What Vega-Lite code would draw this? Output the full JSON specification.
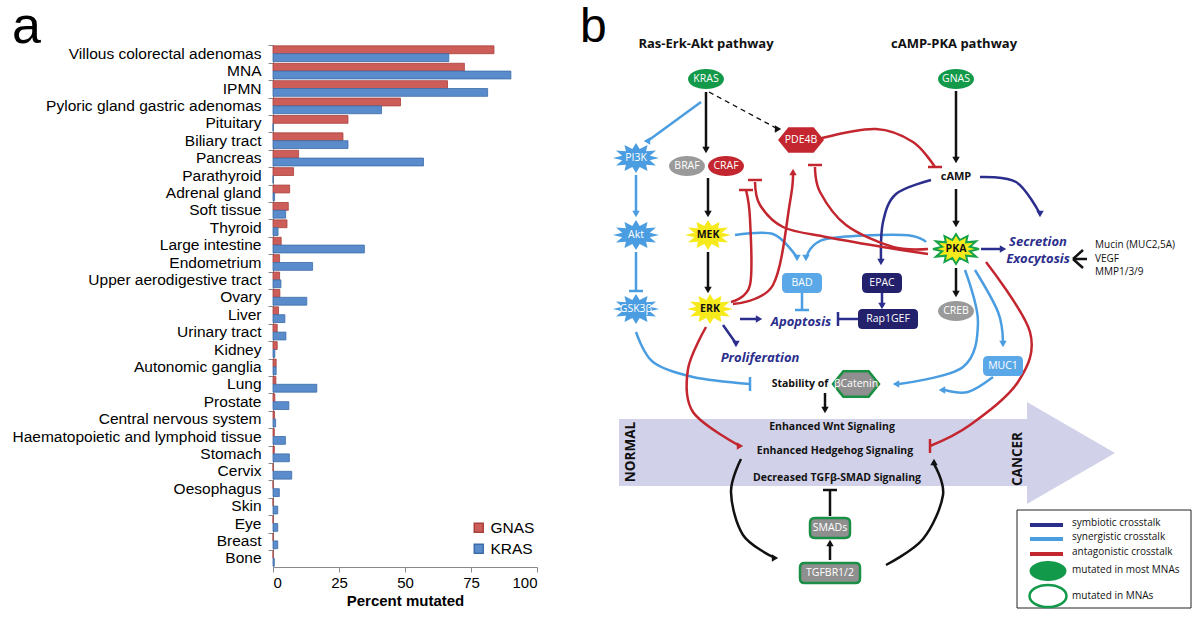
{
  "$schema": "https://vega.github.io/schema/vega-lite/v6.json",
  "padding": {"left": 12, "top": 0, "right": 0, "bottom": 0},
  "background": "white",
  "config": {"view": {"stroke": null}, "font": "Liberation Sans"},
  "spacing": 42,
  "resolve": {"scale": {"color": "independent", "stroke": "independent"}},
  "datasets": {
    "edges": [
      {"edge":"e1","kind":"direct","k":0,"x":123,"y":90},{"edge":"e1","kind":"direct","k":1,"x":123,"y":146},
      {"edge":"e3","kind":"direct","k":0,"x":125,"y":176},{"edge":"e3","kind":"direct","k":1,"x":125,"y":210},
      {"edge":"e4","kind":"direct","k":0,"x":125,"y":250},{"edge":"e4","kind":"direct","k":1,"x":125,"y":286},
      {"edge":"e5","kind":"direct","k":0,"x":373,"y":89},{"edge":"e5","kind":"direct","k":1,"x":373,"y":156},
      {"edge":"e6","kind":"direct","k":0,"x":373,"y":187},{"edge":"e6","kind":"direct","k":1,"x":373,"y":220},
      {"edge":"e7","kind":"direct","k":0,"x":373,"y":266},{"edge":"e7","kind":"direct","k":1,"x":373,"y":290},
      {"edge":"e8","kind":"direct","k":0,"x":242,"y":391},{"edge":"e8","kind":"direct","k":1,"x":242,"y":406},
      {"edge":"e9","kind":"direct","k":0,"x":158,"y":457},{"edge":"e9","kind":"direct","k":1,"x":148,"y":490},{"edge":"e9","kind":"direct","k":2,"x":160,"y":533},{"edge":"e9","kind":"direct","k":3,"x":190,"y":555},
      {"edge":"e10","kind":"direct","k":0,"x":303,"y":563},{"edge":"e10","kind":"direct","k":1,"x":340,"y":537},{"edge":"e10","kind":"direct","k":2,"x":360,"y":493},{"edge":"e10","kind":"direct","k":3,"x":351,"y":462},
      {"edge":"e11","kind":"direct","k":0,"x":247,"y":558},{"edge":"e11","kind":"direct","k":1,"x":247,"y":543},
      {"edge":"e12","kind":"direct","k":0,"x":247,"y":514},{"edge":"e12","kind":"direct","k":1,"x":247,"y":488},
      {"edge":"f1","kind":"direct","k":0,"x":490,"y":257},{"edge":"f1","kind":"direct","k":1,"x":500,"y":248},
      {"edge":"f2","kind":"direct","k":0,"x":490,"y":257},{"edge":"f2","kind":"direct","k":1,"x":504,"y":257},
      {"edge":"f3","kind":"direct","k":0,"x":490,"y":257},{"edge":"f3","kind":"direct","k":1,"x":500,"y":266},
      {"edge":"d1","kind":"indirect","k":0,"x":126,"y":90},{"edge":"d1","kind":"indirect","k":1,"x":193,"y":126},
      {"edge":"s1","kind":"synergistic","k":0,"x":118,"y":100},{"edge":"s1","kind":"synergistic","k":1,"x":66,"y":138},
      {"edge":"s2","kind":"synergistic","k":0,"x":53,"y":173},{"edge":"s2","kind":"synergistic","k":1,"x":53,"y":210},
      {"edge":"s3","kind":"synergistic","k":0,"x":53,"y":250},{"edge":"s3","kind":"synergistic","k":1,"x":53,"y":289},
      {"edge":"s4","kind":"synergistic","k":0,"x":53,"y":330},{"edge":"s4","kind":"synergistic","k":1,"x":70,"y":360},{"edge":"s4","kind":"synergistic","k":2,"x":110,"y":375},{"edge":"s4","kind":"synergistic","k":3,"x":167,"y":382},
      {"edge":"s5","kind":"synergistic","k":0,"x":152,"y":233},{"edge":"s5","kind":"synergistic","k":1,"x":190,"y":232},{"edge":"s5","kind":"synergistic","k":2,"x":213,"y":254},
      {"edge":"s6","kind":"synergistic","k":0,"x":343,"y":240},{"edge":"s6","kind":"synergistic","k":1,"x":320,"y":233},{"edge":"s6","kind":"synergistic","k":2,"x":243,"y":237},{"edge":"s6","kind":"synergistic","k":3,"x":224,"y":254},
      {"edge":"s7","kind":"synergistic","k":0,"x":219,"y":291},{"edge":"s7","kind":"synergistic","k":1,"x":219,"y":308},
      {"edge":"s8","kind":"synergistic","k":0,"x":382,"y":268},{"edge":"s8","kind":"synergistic","k":1,"x":395,"y":320},{"edge":"s8","kind":"synergistic","k":2,"x":380,"y":365},{"edge":"s8","kind":"synergistic","k":3,"x":316,"y":382},
      {"edge":"s9","kind":"synergistic","k":0,"x":392,"y":268},{"edge":"s9","kind":"synergistic","k":1,"x":415,"y":310},{"edge":"s9","kind":"synergistic","k":2,"x":420,"y":340},
      {"edge":"s10","kind":"synergistic","k":0,"x":410,"y":375},{"edge":"s10","kind":"synergistic","k":1,"x":385,"y":390},{"edge":"s10","kind":"synergistic","k":2,"x":362,"y":388},
      {"edge":"n1","kind":"symbiotic","k":0,"x":397,"y":175},{"edge":"n1","kind":"symbiotic","k":1,"x":433,"y":180},{"edge":"n1","kind":"symbiotic","k":2,"x":456,"y":210},
      {"edge":"n2","kind":"symbiotic","k":0,"x":398,"y":247},{"edge":"n2","kind":"symbiotic","k":1,"x":418,"y":247},
      {"edge":"n3","kind":"symbiotic","k":0,"x":348,"y":178},{"edge":"n3","kind":"symbiotic","k":1,"x":313,"y":192},{"edge":"n3","kind":"symbiotic","k":2,"x":300,"y":220},{"edge":"n3","kind":"symbiotic","k":3,"x":298,"y":258},
      {"edge":"n4","kind":"symbiotic","k":0,"x":299,"y":291},{"edge":"n4","kind":"symbiotic","k":1,"x":299,"y":302},
      {"edge":"n5","kind":"symbiotic","k":0,"x":277,"y":317},{"edge":"n5","kind":"symbiotic","k":1,"x":255,"y":317},
      {"edge":"n6","kind":"symbiotic","k":0,"x":157,"y":317},{"edge":"n6","kind":"symbiotic","k":1,"x":174,"y":317},
      {"edge":"n7","kind":"symbiotic","k":0,"x":140,"y":323},{"edge":"n7","kind":"symbiotic","k":1,"x":152,"y":340},
      {"edge":"r1","kind":"antagonistic","k":0,"x":239,"y":136},{"edge":"r1","kind":"antagonistic","k":1,"x":293,"y":127},{"edge":"r1","kind":"antagonistic","k":2,"x":330,"y":140},{"edge":"r1","kind":"antagonistic","k":3,"x":352,"y":165},
      {"edge":"r2","kind":"antagonistic","k":0,"x":150,"y":302},{"edge":"r2","kind":"antagonistic","k":1,"x":190,"y":283},{"edge":"r2","kind":"antagonistic","k":2,"x":207,"y":200},{"edge":"r2","kind":"antagonistic","k":3,"x":210,"y":172},
      {"edge":"r3","kind":"antagonistic","k":0,"x":148,"y":300},{"edge":"r3","kind":"antagonistic","k":1,"x":167,"y":283},{"edge":"r3","kind":"antagonistic","k":2,"x":167,"y":217},{"edge":"r3","kind":"antagonistic","k":3,"x":163,"y":188},
      {"edge":"r4","kind":"antagonistic","k":0,"x":345,"y":252},{"edge":"r4","kind":"antagonistic","k":1,"x":300,"y":245},{"edge":"r4","kind":"antagonistic","k":2,"x":243,"y":235},{"edge":"r4","kind":"antagonistic","k":3,"x":200,"y":225},{"edge":"r4","kind":"antagonistic","k":4,"x":177,"y":203},{"edge":"r4","kind":"antagonistic","k":5,"x":172,"y":180},
      {"edge":"r5","kind":"antagonistic","k":0,"x":345,"y":247},{"edge":"r5","kind":"antagonistic","k":1,"x":310,"y":245},{"edge":"r5","kind":"antagonistic","k":2,"x":263,"y":223},{"edge":"r5","kind":"antagonistic","k":3,"x":237,"y":190},{"edge":"r5","kind":"antagonistic","k":4,"x":232,"y":165},
      {"edge":"r6","kind":"antagonistic","k":0,"x":123,"y":325},{"edge":"r6","kind":"antagonistic","k":1,"x":105,"y":367},{"edge":"r6","kind":"antagonistic","k":2,"x":110,"y":410},{"edge":"r6","kind":"antagonistic","k":3,"x":155,"y":443},
      {"edge":"r7","kind":"antagonistic","k":0,"x":403,"y":260},{"edge":"r7","kind":"antagonistic","k":1,"x":447,"y":330},{"edge":"r7","kind":"antagonistic","k":2,"x":435,"y":380},{"edge":"r7","kind":"antagonistic","k":3,"x":387,"y":423},{"edge":"r7","kind":"antagonistic","k":4,"x":347,"y":444}
    ],
    "heads": [
      {"kind":"direct","dir":"down","x":123,"y":148},{"kind":"direct","dir":"down","x":125,"y":212},{"kind":"direct","dir":"down","x":125,"y":288},
      {"kind":"direct","dir":"down","x":373,"y":158},{"kind":"direct","dir":"down","x":373,"y":222},{"kind":"direct","dir":"down","x":373,"y":292},
      {"kind":"direct","dir":"down","x":242,"y":408},{"kind":"direct","dir":"right","x":192,"y":556},{"kind":"direct","dir":"up","x":351,"y":460},
      {"kind":"direct","dir":"up","x":247,"y":541},{"kind":"indirect","dir":"right","x":195,"y":127},
      {"kind":"synergistic","dir":"left","x":64,"y":139},{"kind":"synergistic","dir":"down","x":53,"y":212},{"kind":"synergistic","dir":"down","x":214,"y":256},
      {"kind":"synergistic","dir":"down","x":223,"y":256},{"kind":"synergistic","dir":"left","x":313,"y":382},{"kind":"synergistic","dir":"down","x":420,"y":342},
      {"kind":"synergistic","dir":"left","x":359,"y":388},
      {"kind":"symbiotic","dir":"down","x":457,"y":212},{"kind":"symbiotic","dir":"right","x":420,"y":247},{"kind":"symbiotic","dir":"down","x":298,"y":260},
      {"kind":"symbiotic","dir":"down","x":299,"y":304},{"kind":"symbiotic","dir":"right","x":176,"y":317},{"kind":"symbiotic","dir":"down","x":153,"y":342},
      {"kind":"antagonistic","dir":"up","x":210,"y":170},{"kind":"antagonistic","dir":"right","x":157,"y":444},
      {"kind":"direct","dir":"h","x":247,"y":488},
      {"kind":"synergistic","dir":"h","x":53,"y":289},{"kind":"synergistic","dir":"v","x":167,"y":382},{"kind":"synergistic","dir":"h","x":219,"y":308},
      {"kind":"symbiotic","dir":"v","x":255,"y":317},
      {"kind":"antagonistic","dir":"h","x":352,"y":165},{"kind":"antagonistic","dir":"h","x":163,"y":188},{"kind":"antagonistic","dir":"h","x":172,"y":178},
      {"kind":"antagonistic","dir":"h","x":232,"y":163},{"kind":"antagonistic","dir":"v","x":347,"y":444}
    ],
    "nodes": [
      {"name":"KRAS","x":123,"y":77},{"name":"GNAS","x":373,"y":77},{"name":"PDE4B","x":218,"y":138},
      {"name":"PI3K","x":53,"y":156},{"name":"BRAF","x":104,"y":164},{"name":"CRAF","x":143,"y":164},
      {"name":"MEK","x":125,"y":233},{"name":"Akt","x":53,"y":233},{"name":"PKA","x":373,"y":247},
      {"name":"BAD","x":219,"y":281},{"name":"EPAC","x":299,"y":281},{"name":"GSK3β","x":53,"y":307},
      {"name":"ERK","x":127,"y":307},{"name":"Rap1GEF","x":305,"y":317},{"name":"CREB","x":373,"y":309},
      {"name":"MUC1","x":420,"y":364},{"name":"βCatenin","x":273,"y":382},{"name":"SMADs","x":247,"y":526},
      {"name":"TGFBR1/2","x":247,"y":571}
    ],
    "texts": [
      {"role":"panel","text":"b","x":-3,"y":40},
      {"role":"header","text":"Ras-Erk-Akt pathway","x":123,"y":42},
      {"role":"header","text":"cAMP-PKA pathway","x":371,"y":42},
      {"role":"camp","text":"cAMP","x":373,"y":175},
      {"role":"process","text":"Secretion","x":455,"y":240},
      {"role":"process","text":"Exocytosis","x":455,"y":257},
      {"role":"process","text":"Apoptosis","x":218,"y":320},
      {"role":"process","text":"Proliferation","x":177,"y":356},
      {"role":"small","text":"Mucin (MUC2,5A)","x":512,"y":243},
      {"role":"small","text":"VEGF","x":512,"y":257},
      {"role":"small","text":"MMP1/3/9","x":512,"y":270},
      {"role":"signal","text":"Stability of","x":217,"y":382},
      {"role":"signal","text":"Enhanced Wnt Signaling","x":249,"y":425},
      {"role":"signal","text":"Enhanced Hedgehog Signaling","x":252,"y":449},
      {"role":"signal","text":"Decreased TGFβ-SMAD Signaling","x":254,"y":476},
      {"role":"stage","text":"NORMAL","x":48,"y":450},
      {"role":"stage","text":"CANCER","x":435,"y":457},
      {"role":"legend","text":"symbiotic crosstalk","x":489,"y":521},
      {"role":"legend","text":"synergistic crosstalk","x":489,"y":535},
      {"role":"legend","text":"antagonistic crosstalk","x":489,"y":550},
      {"role":"legend","text":"mutated in most MNAs","x":489,"y":568},
      {"role":"legend","text":"mutated in MNAs","x":489,"y":594}
    ],
    "arrow": [
      {"x":36,"y":417,"y2":484},{"x":444,"y":417,"y2":484},
      {"x":444,"y":400,"y2":502},{"x":532,"y":451,"y2":451}
    ],
    "legendBox": [{"x":434,"x2":608,"y":508,"y2":606}],
    "legendLines": [
      {"kind":"symbiotic","x":447,"x2":480,"y":523},
      {"kind":"synergistic","x":447,"x2":480,"y":537},
      {"kind":"antagonistic","x":447,"x2":480,"y":552}
    ],
    "legendMarks": [
      {"status":"most","x":465,"y":569},
      {"status":"some","x":465,"y":594}
    ]
  },
  "hconcat": [
    {
      "width": 264,
      "height": 522,
      "title": {"text": "a", "anchor": "start", "frame": "bounds", "fontSize": 52, "fontWeight": "normal", "font": "Liberation Sans", "offset": -9, "color": "#000"},
      "data": {"values": [
        {"tissue":"Villous colorectal adenomas","gene":"GNAS","pct":83.7},{"tissue":"Villous colorectal adenomas","gene":"KRAS","pct":66.6},
        {"tissue":"MNA","gene":"GNAS","pct":72.5},{"tissue":"MNA","gene":"KRAS","pct":90.1},
        {"tissue":"IPMN","gene":"GNAS","pct":66.1},{"tissue":"IPMN","gene":"KRAS","pct":81.3},
        {"tissue":"Pyloric gland gastric adenomas","gene":"GNAS","pct":48.3},{"tissue":"Pyloric gland gastric adenomas","gene":"KRAS","pct":41.1},
        {"tissue":"Pituitary","gene":"GNAS","pct":28.4},{"tissue":"Pituitary","gene":"KRAS","pct":0},
        {"tissue":"Biliary tract","gene":"GNAS","pct":26.5},{"tissue":"Biliary tract","gene":"KRAS","pct":28.4},
        {"tissue":"Pancreas","gene":"GNAS","pct":9.7},{"tissue":"Pancreas","gene":"KRAS","pct":57.0},
        {"tissue":"Parathyroid","gene":"GNAS","pct":7.8},{"tissue":"Parathyroid","gene":"KRAS","pct":0},
        {"tissue":"Adrenal gland","gene":"GNAS","pct":6.3},{"tissue":"Adrenal gland","gene":"KRAS","pct":0.6},
        {"tissue":"Soft tissue","gene":"GNAS","pct":5.8},{"tissue":"Soft tissue","gene":"KRAS","pct":4.8},
        {"tissue":"Thyroid","gene":"GNAS","pct":5.3},{"tissue":"Thyroid","gene":"KRAS","pct":1.9},
        {"tissue":"Large intestine","gene":"GNAS","pct":3.1},{"tissue":"Large intestine","gene":"KRAS","pct":34.6},
        {"tissue":"Endometrium","gene":"GNAS","pct":2.5},{"tissue":"Endometrium","gene":"KRAS","pct":15.0},
        {"tissue":"Upper aerodigestive tract","gene":"GNAS","pct":2.5},{"tissue":"Upper aerodigestive tract","gene":"KRAS","pct":3.0},
        {"tissue":"Ovary","gene":"GNAS","pct":2.6},{"tissue":"Ovary","gene":"KRAS","pct":12.8},
        {"tissue":"Liver","gene":"GNAS","pct":2.1},{"tissue":"Liver","gene":"KRAS","pct":4.5},
        {"tissue":"Urinary tract","gene":"GNAS","pct":1.6},{"tissue":"Urinary tract","gene":"KRAS","pct":4.9},
        {"tissue":"Kidney","gene":"GNAS","pct":1.6},{"tissue":"Kidney","gene":"KRAS","pct":0.7},
        {"tissue":"Autonomic ganglia","gene":"GNAS","pct":1.2},{"tissue":"Autonomic ganglia","gene":"KRAS","pct":1.2},
        {"tissue":"Lung","gene":"GNAS","pct":1.1},{"tissue":"Lung","gene":"KRAS","pct":16.6},
        {"tissue":"Prostate","gene":"GNAS","pct":0.7},{"tissue":"Prostate","gene":"KRAS","pct":6.0},
        {"tissue":"Central nervous system","gene":"GNAS","pct":0.6},{"tissue":"Central nervous system","gene":"KRAS","pct":1.0},
        {"tissue":"Haematopoietic and lymphoid tissue","gene":"GNAS","pct":0.5},{"tissue":"Haematopoietic and lymphoid tissue","gene":"KRAS","pct":4.7},
        {"tissue":"Stomach","gene":"GNAS","pct":0.5},{"tissue":"Stomach","gene":"KRAS","pct":6.2},
        {"tissue":"Cervix","gene":"GNAS","pct":0},{"tissue":"Cervix","gene":"KRAS","pct":7.1},
        {"tissue":"Oesophagus","gene":"GNAS","pct":0},{"tissue":"Oesophagus","gene":"KRAS","pct":2.4},
        {"tissue":"Skin","gene":"GNAS","pct":0},{"tissue":"Skin","gene":"KRAS","pct":1.8},
        {"tissue":"Eye","gene":"GNAS","pct":0},{"tissue":"Eye","gene":"KRAS","pct":1.8},
        {"tissue":"Breast","gene":"GNAS","pct":0},{"tissue":"Breast","gene":"KRAS","pct":1.8},
        {"tissue":"Bone","gene":"GNAS","pct":0},{"tissue":"Bone","gene":"KRAS","pct":0.5}
      ]},
      "mark": {"type": "bar", "strokeWidth": 0.8},
      "encoding": {
        "y": {"field": "tissue", "type": "nominal",
          "sort": ["Villous colorectal adenomas","MNA","IPMN","Pyloric gland gastric adenomas","Pituitary","Biliary tract","Pancreas","Parathyroid","Adrenal gland","Soft tissue","Thyroid","Large intestine","Endometrium","Upper aerodigestive tract","Ovary","Liver","Urinary tract","Kidney","Autonomic ganglia","Lung","Prostate","Central nervous system","Haematopoietic and lymphoid tissue","Stomach","Cervix","Oesophagus","Skin","Eye","Breast","Bone"],
          "scale": {"paddingInner": 0.1, "paddingOuter": 0.05},
          "axis": {"title": null, "labelFontSize": 15.5, "labelColor": "#000", "labelPadding": 7, "tickSize": 5, "bandPosition": 0, "domainColor": "#8a8a8a", "tickColor": "#8a8a8a", "labelLimit": 400}},
        "yOffset": {"field": "gene", "sort": ["GNAS", "KRAS"]},
        "x": {"field": "pct", "type": "quantitative", "scale": {"domain": [0, 100], "nice": false},
          "axis": {"values": [0, 25, 50, 75, 100], "title": "Percent mutated", "titleFontSize": 15, "titleFontWeight": "bold", "titleColor": "#000", "labelFontSize": 15, "labelColor": "#000", "tickSize": 5, "grid": false, "domainColor": "#8a8a8a", "tickColor": "#8a8a8a", "titlePadding": 3, "labelPadding": 3}},
        "color": {"field": "gene", "type": "nominal", "scale": {"domain": ["GNAS", "KRAS"], "range": ["#cd5d59", "#5a8ccb"]},
          "legend": {"title": null, "orient": "none", "legendX": 198, "legendY": 475, "symbolType": "square", "symbolSize": 80, "labelFontSize": 15.5, "labelColor": "#000", "rowPadding": 4, "labelOffset": 4}},
        "stroke": {"field": "gene", "type": "nominal", "scale": {"domain": ["GNAS", "KRAS"], "range": ["#a8403c", "#3c6ca8"]}, "legend": null}
      }
    },
    {
      "width": 620,
      "height": 585,
      "encoding": {
        "x": {"field": "x", "type": "quantitative", "scale": {"domain": [0, 620], "nice": false, "zero": false}, "axis": null},
        "y": {"field": "y", "type": "quantitative", "scale": {"domain": [43, 628], "nice": false, "zero": false, "reverse": true}, "axis": null}
      },
      "layer": [
        {"data": {"name": "arrow"}, "mark": {"type": "area", "color": "#d1d2e9", "interpolate": "linear", "orient": "vertical"},
         "encoding": {"y": {"field": "y", "type": "quantitative", "stack": null, "scale": {"domain": [43, 628], "nice": false, "zero": false, "reverse": true}, "axis": null}, "y2": {"field": "y2"}}},
        {"data": {"name": "edges"}, "transform": [{"filter": "datum.kind != 'indirect'"}],
         "mark": {"type": "line", "interpolate": "cardinal"},
         "encoding": {"detail": {"field": "edge"}, "order": {"field": "k"},
           "color": {"field": "kind", "type": "nominal", "scale": {"domain": ["symbiotic","synergistic","antagonistic","direct","indirect"], "range": ["#2b2e8c","#4a9de0","#c3262f","#111111","#111111"]}, "legend": null},
           "strokeWidth": {"field": "kind", "type": "nominal", "scale": {"domain": ["symbiotic","synergistic","antagonistic","direct","indirect"], "range": [2.5, 2.5, 2.5, 1.3, 1.3]}, "legend": null}}},
        {"data": {"name": "edges"}, "transform": [{"filter": "datum.kind == 'indirect'"}],
         "mark": {"type": "line", "color": "#111111", "strokeWidth": 1.3, "strokeDash": [5, 4]},
         "encoding": {"detail": {"field": "edge"}, "order": {"field": "k"}}},
        {"data": {"name": "heads"}, "transform": [{"filter": "datum.dir != 'h' && datum.dir != 'v'"}],
         "mark": {"type": "point", "filled": true, "opacity": 1, "size": 55},
         "encoding": {
           "color": {"field": "kind", "type": "nominal", "scale": {"domain": ["symbiotic","synergistic","antagonistic","direct","indirect"], "range": ["#2b2e8c","#4a9de0","#c3262f","#111111","#111111"]}, "legend": null},
           "shape": {"field": "dir", "type": "nominal", "scale": {"domain": ["down","up","left","right","h","v"], "range": ["triangle-down","triangle-up","triangle-left","triangle-right","M-1,0L1,0","M0,-1L0,1"]}, "legend": null}}},
        {"data": {"name": "heads"}, "transform": [{"filter": "datum.dir == 'h' || datum.dir == 'v'"}],
         "mark": {"type": "point", "filled": false, "opacity": 1, "size": 196, "strokeWidth": 2.5},
         "encoding": {
           "color": {"field": "kind", "type": "nominal", "scale": {"domain": ["symbiotic","synergistic","antagonistic","direct","indirect"], "range": ["#2b2e8c","#4a9de0","#c3262f","#111111","#111111"]}, "legend": null},
           "shape": {"field": "dir", "type": "nominal", "scale": {"domain": ["down","up","left","right","h","v"], "range": ["triangle-down","triangle-up","triangle-left","triangle-right","M-1,0L1,0","M0,-1L0,1"]}, "legend": null}}},
        {"data": {"name": "nodes"}, "transform": [{"filter": {"field": "name", "oneOf": ["KRAS","GNAS","BRAF","CRAF","CREB"]}}],
         "mark": {"type": "point", "filled": true, "opacity": 1, "size": 1296, "strokeWidth": 0,
           "shape": "M-1,0C-1,-0.31,-0.55,-0.56,0,-0.56C0.55,-0.56,1,-0.31,1,0C1,0.31,0.55,0.56,0,0.56C-0.55,0.56,-1,0.31,-1,0Z"},
         "encoding": {"fill": {"field": "name", "type": "nominal", "scale": {"domain": ["KRAS","GNAS","PDE4B","PI3K","BRAF","CRAF","MEK","Akt","PKA","BAD","EPAC","GSK3β","ERK","Rap1GEF","CREB","MUC1","βCatenin","SMADs","TGFBR1/2"], "range": ["#13994a","#13994a","#c3262f","#4a9de0","#9a9a9a","#c3262f","#f7ea1c","#4a9de0","#f7ea1c","#5aa8e8","#23216b","#4a9de0","#f7ea1c","#23216b","#9a9a9a","#5aa8e8","#8f8f8f","#8f8f8f","#8f8f8f"]}, "legend": null}}},
        {"data": {"name": "nodes"}, "transform": [{"filter": {"field": "name", "oneOf": ["PDE4B","βCatenin"]}}],
         "mark": {"type": "point", "filled": true, "opacity": 1, "size": 2116, "strokeWidth": 2.5,
           "shape": "M-1,0L-0.55,-0.55L0.55,-0.55L1,0L0.55,0.55L-0.55,0.55Z"},
         "encoding": {"fill": {"field": "name", "type": "nominal", "scale": {"domain": ["KRAS","GNAS","PDE4B","PI3K","BRAF","CRAF","MEK","Akt","PKA","BAD","EPAC","GSK3β","ERK","Rap1GEF","CREB","MUC1","βCatenin","SMADs","TGFBR1/2"], "range": ["#13994a","#13994a","#c3262f","#4a9de0","#9a9a9a","#c3262f","#f7ea1c","#4a9de0","#f7ea1c","#5aa8e8","#23216b","#4a9de0","#f7ea1c","#23216b","#9a9a9a","#5aa8e8","#8f8f8f","#8f8f8f","#8f8f8f"]}, "legend": null},
           "stroke": {"condition": {"test": "datum.name == 'βCatenin'", "value": "#1a8f45"}, "value": "transparent"}}},
        {"data": {"name": "nodes"}, "transform": [{"filter": {"field": "name", "oneOf": ["PI3K","Akt","GSK3β","MEK","ERK","PKA"]}}],
         "mark": {"type": "point", "filled": true, "opacity": 1, "size": 2116, "strokeWidth": 2,
           "shape": "M1,0L0.6,0.1L0.87,0.33L0.44,0.29L0.5,0.56L0.16,0.39L0,0.65L-0.16,0.39L-0.5,0.56L-0.44,0.29L-0.87,0.33L-0.6,0.1L-1,0L-0.6,-0.1L-0.87,-0.33L-0.44,-0.29L-0.5,-0.56L-0.16,-0.39L0,-0.65L0.16,-0.39L0.5,-0.56L0.44,-0.29L0.87,-0.33L0.6,-0.1Z"},
         "encoding": {"fill": {"field": "name", "type": "nominal", "scale": {"domain": ["KRAS","GNAS","PDE4B","PI3K","BRAF","CRAF","MEK","Akt","PKA","BAD","EPAC","GSK3β","ERK","Rap1GEF","CREB","MUC1","βCatenin","SMADs","TGFBR1/2"], "range": ["#13994a","#13994a","#c3262f","#4a9de0","#9a9a9a","#c3262f","#f7ea1c","#4a9de0","#f7ea1c","#5aa8e8","#23216b","#4a9de0","#f7ea1c","#23216b","#9a9a9a","#5aa8e8","#8f8f8f","#8f8f8f","#8f8f8f"]}, "legend": null},
           "stroke": {"condition": {"test": "datum.name == 'PKA'", "value": "#17a34a"}, "value": "transparent"}}},
        {"data": {"name": "nodes"}, "transform": [{"filter": {"field": "name", "oneOf": ["BAD","EPAC","MUC1","SMADs"]}}],
         "mark": {"type": "point", "filled": true, "opacity": 1, "size": 1600, "strokeWidth": 2.5,
           "shape": "M-0.75,-0.5L0.75,-0.5Q1,-0.5,1,-0.25L1,0.25Q1,0.5,0.75,0.5L-0.75,0.5Q-1,0.5,-1,0.25L-1,-0.25Q-1,-0.5,-0.75,-0.5Z"},
         "encoding": {"fill": {"field": "name", "type": "nominal", "scale": {"domain": ["KRAS","GNAS","PDE4B","PI3K","BRAF","CRAF","MEK","Akt","PKA","BAD","EPAC","GSK3β","ERK","Rap1GEF","CREB","MUC1","βCatenin","SMADs","TGFBR1/2"], "range": ["#13994a","#13994a","#c3262f","#4a9de0","#9a9a9a","#c3262f","#f7ea1c","#4a9de0","#f7ea1c","#5aa8e8","#23216b","#4a9de0","#f7ea1c","#23216b","#9a9a9a","#5aa8e8","#8f8f8f","#8f8f8f","#8f8f8f"]}, "legend": null},
           "stroke": {"condition": {"test": "datum.name == 'SMADs'", "value": "#1a8f45"}, "value": "transparent"}}},
        {"data": {"name": "nodes"}, "transform": [{"filter": {"field": "name", "oneOf": ["Rap1GEF","TGFBR1/2"]}}],
         "mark": {"type": "point", "filled": true, "opacity": 1, "size": 3600, "strokeWidth": 2.5,
           "shape": "M-0.85,-0.33L0.85,-0.33Q1,-0.33,1,-0.18L1,0.18Q1,0.33,0.85,0.33L-0.85,0.33Q-1,0.33,-1,0.18L-1,-0.18Q-1,-0.33,-0.85,-0.33Z"},
         "encoding": {"fill": {"field": "name", "type": "nominal", "scale": {"domain": ["KRAS","GNAS","PDE4B","PI3K","BRAF","CRAF","MEK","Akt","PKA","BAD","EPAC","GSK3β","ERK","Rap1GEF","CREB","MUC1","βCatenin","SMADs","TGFBR1/2"], "range": ["#13994a","#13994a","#c3262f","#4a9de0","#9a9a9a","#c3262f","#f7ea1c","#4a9de0","#f7ea1c","#5aa8e8","#23216b","#4a9de0","#f7ea1c","#23216b","#9a9a9a","#5aa8e8","#8f8f8f","#8f8f8f","#8f8f8f"]}, "legend": null},
           "stroke": {"condition": {"test": "datum.name == 'TGFBR1/2'", "value": "#1a8f45"}, "value": "transparent"}}},
        {"data": {"name": "nodes"}, "transform": [{"filter": {"not": {"field": "name", "oneOf": ["MEK","ERK","PKA"]}}}],
         "mark": {"type": "text", "font": "Open Sans", "fontSize": 10.5, "color": "#ffffff", "baseline": "middle"},
         "encoding": {"text": {"field": "name"}}},
        {"data": {"name": "nodes"}, "transform": [{"filter": {"field": "name", "oneOf": ["MEK","ERK","PKA"]}}],
         "mark": {"type": "text", "font": "Open Sans", "fontSize": 10.5, "fontWeight": "bold", "color": "#111111", "baseline": "middle"},
         "encoding": {"text": {"field": "name"}}},
        {"data": {"name": "texts"}, "transform": [{"filter": "datum.role == 'panel'"}],
         "mark": {"type": "text", "font": "Liberation Sans", "fontSize": 48, "color": "#000", "align": "left", "baseline": "alphabetic"},
         "encoding": {"text": {"field": "text"}}},
        {"data": {"name": "texts"}, "transform": [{"filter": "datum.role == 'header'"}],
         "mark": {"type": "text", "font": "Open Sans", "fontSize": 13, "fontWeight": "bold", "color": "#111", "baseline": "middle"},
         "encoding": {"text": {"field": "text"}}},
        {"data": {"name": "texts"}, "transform": [{"filter": "datum.role == 'camp'"}],
         "mark": {"type": "text", "font": "Open Sans", "fontSize": 11, "fontWeight": "bold", "color": "#111", "baseline": "middle"},
         "encoding": {"text": {"field": "text"}}},
        {"data": {"name": "texts"}, "transform": [{"filter": "datum.role == 'process'"}],
         "mark": {"type": "text", "font": "Open Sans", "fontSize": 13, "fontWeight": "bold", "fontStyle": "italic", "color": "#2b2e8c", "baseline": "middle"},
         "encoding": {"text": {"field": "text"}}},
        {"data": {"name": "texts"}, "transform": [{"filter": "datum.role == 'small' || datum.role == 'legend'"}],
         "mark": {"type": "text", "font": "Open Sans", "fontSize": 10, "color": "#111", "align": "left", "baseline": "middle"},
         "encoding": {"text": {"field": "text"}}},
        {"data": {"name": "texts"}, "transform": [{"filter": "datum.role == 'signal'"}],
         "mark": {"type": "text", "font": "Open Sans", "fontSize": 10.5, "fontWeight": "bold", "color": "#111", "baseline": "middle"},
         "encoding": {"text": {"field": "text"}}},
        {"data": {"name": "texts"}, "transform": [{"filter": "datum.role == 'stage'"}],
         "mark": {"type": "text", "font": "Open Sans", "fontSize": 13.5, "fontWeight": "bold", "color": "#111", "baseline": "middle", "angle": 270},
         "encoding": {"text": {"field": "text"}}},
        {"data": {"name": "legendBox"}, "mark": {"type": "rect", "fill": null, "stroke": "#222222", "strokeWidth": 1},
         "encoding": {"x2": {"field": "x2"}, "y2": {"field": "y2"}}},
        {"data": {"name": "legendLines"}, "mark": {"type": "rule", "strokeWidth": 4},
         "encoding": {"x2": {"field": "x2"},
           "color": {"field": "kind", "type": "nominal", "scale": {"domain": ["symbiotic","synergistic","antagonistic","direct","indirect"], "range": ["#2b2e8c","#4a9de0","#c3262f","#111111","#111111"]}, "legend": null}}},
        {"data": {"name": "legendMarks"}, "transform": [{"filter": "datum.status == 'most'"}],
         "mark": {"type": "point", "filled": true, "opacity": 1, "color": "#13994a", "size": 1369,
           "shape": "M-1,0C-1,-0.3,-0.55,-0.54,0,-0.54C0.55,-0.54,1,-0.3,1,0C1,0.3,0.55,0.54,0,0.54C-0.55,0.54,-1,0.3,-1,0Z"}},
        {"data": {"name": "legendMarks"}, "transform": [{"filter": "datum.status == 'some'"}],
         "mark": {"type": "point", "filled": false, "opacity": 1, "color": "#13994a", "strokeWidth": 2.5, "size": 1369,
           "shape": "M-1,0C-1,-0.33,-0.55,-0.6,0,-0.6C0.55,-0.6,1,-0.33,1,0C1,0.33,0.55,0.6,0,0.6C-0.55,0.6,-1,0.33,-1,0Z"}}
      ]
    }
  ]
}
